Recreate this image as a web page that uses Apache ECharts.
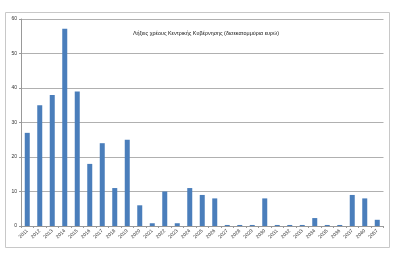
<!DOCTYPE html>
<html>
<head>
<meta charset="utf-8">
<script src="https://cdn.jsdelivr.net/npm/echarts@6/dist/echarts.min.js"></script>
<style>
html,body{margin:0;padding:0;background:#fff;}
#c{width:400px;height:254px;}
</style>
</head>
<body>
<div id="c"></div>
<script>
var categories = ['2011','2012','2013','2014','2015','2016','2017','2018','2019','2020',
  '2021','2022','2023','2024','2025','2026','2027','2028','2029','2030',
  '2031','2032','2033','2034','2035','2036','2037','2040','2057'];
var values = [27, 35, 38, 57.2, 39, 18, 24, 11, 25, 6,
  0.8, 10, 0.8, 11, 9, 8, 0.3, 0.3, 0.3, 8,
  0.3, 0.3, 0.3, 2.3, 0.3, 0.3, 9, 8, 1.8];
var yTicks = [0, 10, 20, 30, 40, 50, 60];
var titleText = 'Λήξεις χρέους Κεντρικής Κυβέρνησης (δισεκατομμύρια ευρώ)';

var chart = echarts.init(document.getElementById('c'), null, {renderer:'canvas'});
chart.setOption({
  animation: false,
  backgroundColor: '#fff',
  title: {
    text: titleText,
    left: 201, top: 26, textAlign: 'center',
    textStyle: {fontFamily: 'Liberation Sans', fontSize: 5.4, fontWeight: 'normal', color: '#111'}
  },
  graphic: [{
    type: 'rect', shape: {x: 5.5, y: 12.5, width: 384, height: 235},
    style: {fill: 'none', stroke: '#c8c8c8', lineWidth: 1}, z: -1
  }],
  grid: {left: 21, right: 16.5, top: 19, bottom: 28, containLabel: false},
  xAxis: {
    type: 'category', data: categories,
    axisLine: {lineStyle: {color: '#999', width: 1}},
    axisTick: {show: true, length: 2, lineStyle: {color: '#999'}},
    axisLabel: {rotate: 45, fontSize: 5, color: '#333', fontFamily: 'Liberation Sans', margin: 4, interval: 0}
  },
  yAxis: {
    type: 'value', min: yTicks[0], max: yTicks[yTicks.length-1], interval: 10,
    axisLine: {show: true, lineStyle: {color: '#999'}},
    axisTick: {show: true, length: 2, lineStyle: {color: '#999'}},
    axisLabel: {fontSize: 5, color: '#333', fontFamily: 'Liberation Sans', margin: 4},
    splitLine: {lineStyle: {color: '#b0b0b0', width: 1}}
  },
  series: [{
    type: 'bar', data: values,
    barWidth: 5,
    itemStyle: {color: '#4a7ebb'}
  }]
});
</script>
</body>
</html>
